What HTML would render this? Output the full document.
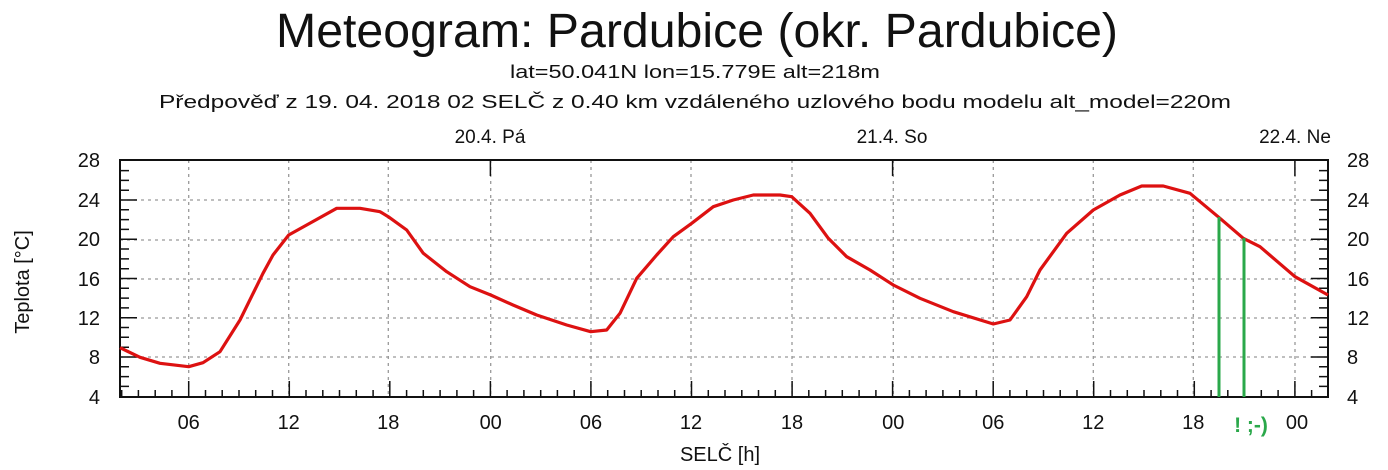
<!DOCTYPE html>
<html><head><meta charset="utf-8"><style>
html,body{margin:0;padding:0;background:#fff;}
svg{display:block;font-family:"Liberation Sans",sans-serif;}
</style></head><body>
<svg width="1388" height="470" viewBox="0 0 1388 470" xmlns="http://www.w3.org/2000/svg">
<rect width="1388" height="470" fill="#fff"/>
<text x="697" y="47" font-size="48" text-anchor="middle" textLength="842" lengthAdjust="spacingAndGlyphs" fill="#111">Meteogram: Pardubice (okr. Pardubice)</text>
<text x="695" y="78" font-size="18" text-anchor="middle" textLength="370" lengthAdjust="spacingAndGlyphs" fill="#111">lat=50.041N lon=15.779E alt=218m</text>
<text x="695" y="108" font-size="18" text-anchor="middle" textLength="1072" lengthAdjust="spacingAndGlyphs" fill="#111">Předpověď z 19. 04. 2018 02 SELČ z 0.40 km vzdáleného uzlového bodu modelu alt_model=220m</text>
<g font-size="19" fill="#111" text-anchor="middle">
<text x="490" y="143">20.4. Pá</text>
<text x="892" y="143">21.4. So</text>
<text x="1295" y="143">22.4. Ne</text>
</g>
<g stroke="#999" stroke-width="1.3" stroke-dasharray="3,4" fill="none">
<line x1="188.7" y1="160" x2="188.7" y2="397"/><line x1="288.7" y1="160" x2="288.7" y2="397"/><line x1="388.3" y1="160" x2="388.3" y2="397"/><line x1="490.7" y1="160" x2="490.7" y2="397"/><line x1="591" y1="160" x2="591" y2="397"/><line x1="691" y1="160" x2="691" y2="397"/><line x1="792" y1="160" x2="792" y2="397"/><line x1="893.3" y1="160" x2="893.3" y2="397"/><line x1="993.3" y1="160" x2="993.3" y2="397"/><line x1="1093.3" y1="160" x2="1093.3" y2="397"/><line x1="1193.3" y1="160" x2="1193.3" y2="397"/><line x1="1295" y1="160" x2="1295" y2="397"/>
<line x1="120" y1="200" x2="1328" y2="200"/><line x1="120" y1="240" x2="1328" y2="240"/><line x1="120" y1="279" x2="1328" y2="279"/><line x1="120" y1="318" x2="1328" y2="318"/><line x1="120" y1="357" x2="1328" y2="357"/>
</g>
<path fill="none" stroke="#111" stroke-width="1.5" d="
M121.7 397v-7 M138.4 397v-7 M155.2 397v-7 M171.9 397v-7 M188.7 397v-16 M205.5 397v-7 M222.2 397v-7 M239 397v-7 M255.7 397v-7 M272.5 397v-7 M289.3 397v-16 M306 397v-7 M322.8 397v-7 M339.5 397v-7 M356.3 397v-7 M373.1 397v-7 M389.8 397v-16 M406.6 397v-7 M423.3 397v-7 M440.1 397v-7 M456.9 397v-7 M473.6 397v-7 M490.4 397v-16 M507.1 397v-7 M523.9 397v-7 M540.7 397v-7 M557.4 397v-7 M574.2 397v-7 M590.9 397v-16 M607.7 397v-7 M624.5 397v-7 M641.2 397v-7 M658 397v-7 M674.7 397v-7 M691.5 397v-16 M708.3 397v-7 M725 397v-7 M741.8 397v-7 M758.5 397v-7 M775.3 397v-7 M792.1 397v-16 M808.8 397v-7 M825.6 397v-7 M842.3 397v-7 M859.1 397v-7 M875.9 397v-7 M892.6 397v-16 M909.4 397v-7 M926.1 397v-7 M942.9 397v-7 M959.7 397v-7 M976.4 397v-7 M993.2 397v-16 M1009.9 397v-7 M1026.7 397v-7 M1043.5 397v-7 M1060.2 397v-7 M1077 397v-7 M1093.7 397v-16 M1110.5 397v-7 M1127.3 397v-7 M1144 397v-7 M1160.8 397v-7 M1177.5 397v-7 M1194.3 397v-16 M1211.1 397v-7 M1227.8 397v-7 M1244.6 397v-7 M1261.3 397v-7 M1278.1 397v-7 M1294.9 397v-16 M1311.6 397v-7
M490.4 160v16 M892.6 160v16 M1294.9 160v16
M120 386.4h9 M120 376.6h9 M120 366.8h9 M120 357h17 M120 347.2h9 M120 337.3h9 M120 327.5h9 M120 317.7h17 M120 307.9h9 M120 298.1h9 M120 288.3h9 M120 278.5h17 M120 268.7h9 M120 258.9h9 M120 249h9 M120 239.2h17 M120 229.4h9 M120 219.6h9 M120 209.8h9 M120 200h17 M120 190.2h9 M120 180.4h9 M120 170.6h9
M1328 386.4h-9 M1328 376.6h-9 M1328 366.8h-9 M1328 357h-17 M1328 347.2h-9 M1328 337.3h-9 M1328 327.5h-9 M1328 317.7h-17 M1328 307.9h-9 M1328 298.1h-9 M1328 288.3h-9 M1328 278.5h-17 M1328 268.7h-9 M1328 258.9h-9 M1328 249h-9 M1328 239.2h-17 M1328 229.4h-9 M1328 219.6h-9 M1328 209.8h-9 M1328 200h-17 M1328 190.2h-9 M1328 180.4h-9 M1328 170.6h-9"/>
<rect x="120" y="160" width="1208" height="237" fill="none" stroke="#111" stroke-width="2"/>
<polyline fill="none" stroke="#dd1111" stroke-width="3.2" stroke-linejoin="round" points="120,347.7 140,357.3 160,363.3 188.7,366.7 203,362.7 220,351.7 240,320 263,273.3 273,255 288.7,235 306.7,225 336.7,208.3 360,208.3 380,211.7 388.3,216.7 406.7,230 423.3,253.3 446.7,271.7 470,286.7 490.7,295 513,305 536.7,315 566.7,325 590.7,331.7 606.7,330 620,313.3 636.7,278.3 656.7,255 673.3,236.7 691.7,223.3 713.3,206.7 733.3,200 753.3,195 780,195 791.7,196.7 810,213.3 828.3,238.3 846.7,256.7 870,270 893.3,285 920,298.3 953.3,311.7 993.3,324 1010,320 1026.7,296.7 1040,270 1066.7,233.3 1093.3,210 1120,195 1141.7,186 1163.3,186 1190,193.3 1220,218.3 1243.3,238.3 1260,246.7 1295,276.7 1328,295"/>
<g stroke="#2aa84a" stroke-width="3">
<line x1="1219" y1="217" x2="1219" y2="397"/>
<line x1="1244" y1="238" x2="1244" y2="397"/>
</g>
<g font-size="20" fill="#111">
<g text-anchor="end">
<text x="100" y="167">28</text><text x="100" y="207">24</text><text x="100" y="246">20</text><text x="100" y="286">16</text><text x="100" y="325">12</text><text x="100" y="364">8</text><text x="100" y="404">4</text>
</g>
<g text-anchor="start">
<text x="1347" y="167">28</text><text x="1347" y="207">24</text><text x="1347" y="246">20</text><text x="1347" y="286">16</text><text x="1347" y="325">12</text><text x="1347" y="364">8</text><text x="1347" y="404">4</text>
</g>
<g text-anchor="middle">
<text x="188.7" y="429">06</text><text x="288.7" y="429">12</text><text x="388.3" y="429">18</text><text x="490.7" y="429">00</text><text x="591" y="429">06</text><text x="691" y="429">12</text><text x="792" y="429">18</text><text x="893.3" y="429">00</text><text x="993.3" y="429">06</text><text x="1093.3" y="429">12</text><text x="1193.3" y="429">18</text><text x="1297" y="429">00</text>
</g>
<text x="720" y="461" text-anchor="middle">SELČ [h]</text>
<text transform="translate(29,282) rotate(-90)" text-anchor="middle">Teplota [°C]</text>
</g>
<text x="1251" y="432" font-size="21" font-weight="bold" fill="#2aa84a" text-anchor="middle">! ;-)</text>
</svg>
</body></html>
